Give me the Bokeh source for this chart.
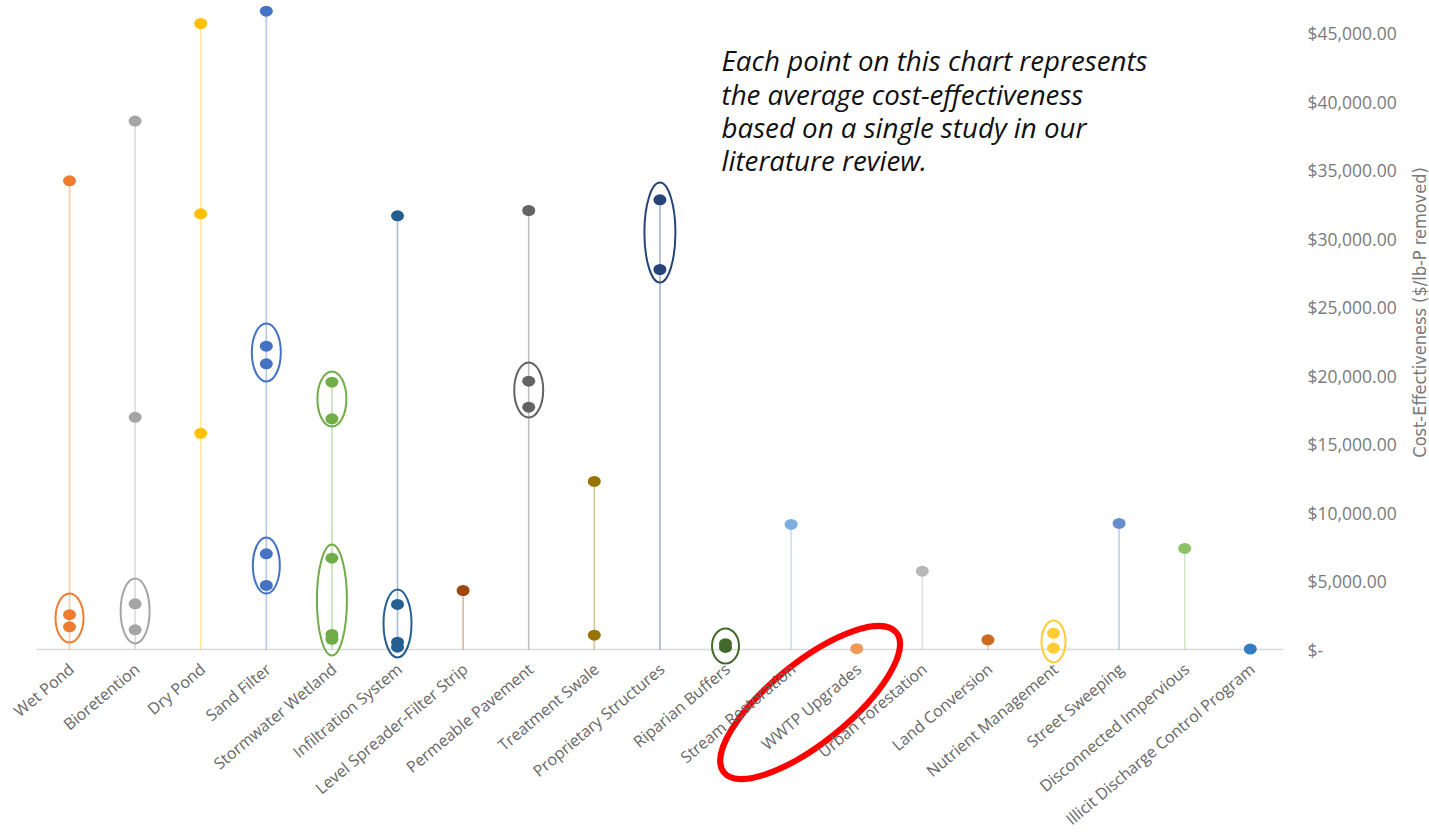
import math

from bokeh.core.properties import value
from bokeh.embed import file_html
from bokeh.layouts import row
from bokeh.models import ColumnDataSource, FixedTicker, NumeralTickFormatter, Range1d
from bokeh.plotting import figure
from bokeh.resources import INLINE

# Stormwater / nutrient practices shown along the horizontal axis
categories = [
    "Wet Pond", "Bioretention", "Dry Pond", "Sand Filter", "Stormwater Wetland",
    "Infiltration System", "Level Spreader-Filter Strip", "Permeable Pavement",
    "Treatment Swale", "Proprietary Structures", "Riparian Buffers",
    "Stream Restoration", "WWTP Upgrades", "Urban Forestation", "Land Conversion",
    "Nutrient Management", "Street Sweeping", "Disconnected Impervious",
    "Illicit Discharge Control Program",
]

# Average cost-effectiveness ($/lb-P removed), one value per study
study_values = [
    [34240, 2540, 1660],                 # Wet Pond
    [38600, 16960, 3340, 1440],          # Bioretention
    [45730, 31830, 15790],               # Dry Pond
    [46630, 22160, 20870, 6990, 4680],   # Sand Filter
    [19530, 16850, 6670, 1100, 750],     # Stormwater Wetland
    [31680, 3290, 530, 170],             # Infiltration System
    [4310],                              # Level Spreader-Filter Strip
    [32070, 19600, 17700],               # Permeable Pavement
    [12280, 1050],                       # Treatment Swale
    [32850, 27760],                      # Proprietary Structures
    [420, 150],                          # Riparian Buffers
    [9140],                              # Stream Restoration
    [60],                                # WWTP Upgrades
    [5720],                              # Urban Forestation
    [710],                               # Land Conversion
    [1190, 100],                         # Nutrient Management
    [9210],                              # Street Sweeping
    [7380],                              # Disconnected Impervious
    [30],                                # Illicit Discharge Control Program
]

point_colors = [
    "#ED7D31", "#A5A5A5", "#FFC000", "#4472C4", "#70AD47", "#255E91", "#9E480E",
    "#636363", "#997300", "#264478", "#43682B", "#7CAFDD", "#F1975A", "#B7B7B7",
    "#CC6A1E", "#FFCD33", "#698ED0", "#8CC168", "#327DC2",
]

# Groups of studies that are circled: practice, lower and upper bound ($/lb-P)
ring_category = [
    "Wet Pond", "Bioretention", "Sand Filter", "Sand Filter", "Stormwater Wetland",
    "Stormwater Wetland", "Infiltration System", "Permeable Pavement",
    "Proprietary Structures", "Riparian Buffers", "Nutrient Management",
]
ring_low = [510, 440, 19580, 4090, 16290, -440, -580, 16950, 26810, -1020, -950]
ring_high = [4090, 5190, 23810, 8180, 20310, 7670, 4380, 20970, 34110, 1530, 2120]
ring_width_px = [28, 29, 29, 27, 29, 30, 28, 29, 31, 27, 24]

y_ticks = list(range(0, 45001, 5000))

note_lines = [
    "Each point on this chart represents",
    "the average cost-effectiveness",
    "based on a single study in our",
    "literature review.",
]
axis_title = "Cost-Effectiveness ($/lb-P removed)"

FONT = "Open Sans"
GREY_TEXT = "#666666"
TICK_TEXT = "#7a7a7a"

idx = {c: i for i, c in enumerate(categories)}
y_range = Range1d(-13368, 47410)

p = figure(
    frame_width=1295, frame_height=832,
    x_range=Range1d(-1.052, 18.689), y_range=y_range,
    x_axis_location=None, y_axis_location="right",
    output_backend="svg", toolbar_location=None,
    min_border_left=0, min_border_top=0, min_border_bottom=0, min_border_right=106,
)
p.outline_line_color = None
p.grid.visible = False
p.background_fill_color = "white"
p.border_fill_color = "white"

# Right-hand value axis
ax = p.yaxis[0]
ax.ticker = FixedTicker(ticks=y_ticks)
ax.formatter = NumeralTickFormatter(format="$0,0.00")
ax.major_label_overrides = {0: "$-"}
ax.axis_line_color = None
ax.major_tick_line_color = None
ax.minor_tick_line_color = None
ax.major_label_standoff = 6
ax.major_label_text_font = FONT
ax.major_label_text_font_size = "17.5px"
ax.major_label_text_color = TICK_TEXT

# Baseline at zero
p.segment(x0=[-0.5], y0=[0], x1=[len(categories) - 0.5], y1=[0],
          line_color="#d9d9d9", line_width=1.6)

# Stems from zero up to the highest study of each practice
stems = ColumnDataSource(dict(
    x=list(range(len(categories))),
    top=[max(v) for v in study_values],
    color=point_colors,
))
p.segment(x0="x", y0=0, x1="x", y1="top", source=stems,
          line_color="color", line_alpha=0.4, line_width=1.6)

# One dot per study
px, py, pc = [], [], []
for i, vals in enumerate(study_values):
    for v in vals:
        px.append(i)
        py.append(v)
        pc.append(point_colors[i])
pts = ColumnDataSource(dict(x=px, y=py, color=pc))
p.ellipse(x="x", y="y", width=13, height=11, width_units="screen", height_units="screen",
          source=pts, fill_color="color", line_color=None)

# Rings around clustered studies
rings = ColumnDataSource(dict(
    x=[idx[c] for c in ring_category],
    y=[(lo + hi) / 2 for lo, hi in zip(ring_low, ring_high)],
    h=[hi - lo for lo, hi in zip(ring_low, ring_high)],
    w=ring_width_px,
    color=[point_colors[idx[c]] for c in ring_category],
))
p.ellipse(x="x", y="y", width="w", height="h", width_units="screen", height_units="data",
          source=rings, fill_color=None, line_color="color", line_width=2)

# Highlight around the WWTP Upgrades label
p.ellipse(x=[idx["WWTP Upgrades"] - 0.71], y=[-3872], width=222, height=80,
          width_units="screen", height_units="screen", angle=math.radians(39),
          fill_color=None, line_color="#ff0000", line_width=6)

# Slanted practice names under the baseline
p.text(x=list(range(len(categories))), y=[-1250] * len(categories), text=categories,
       x_offset=2, angle=math.radians(40), text_align="right", text_baseline="middle",
       text_font=value(FONT), text_font_size="16px", text_color=GREY_TEXT)

# Explanatory note, one line per entry
line_step = 2433
p.text(x=[9.939] * len(note_lines),
       y=[43030 - k * line_step for k in range(len(note_lines))],
       text=note_lines, text_align="left", text_baseline="alphabetic",
       text_font=value(FONT), text_font_style="italic", text_font_size="27.7px",
       text_color="#111111")

# Narrow strip carrying the value-axis title
q = figure(
    frame_width=28, frame_height=832, x_range=Range1d(0, 28), y_range=y_range,
    x_axis_location=None, y_axis_location=None,
    output_backend="svg", toolbar_location=None,
    min_border_left=0, min_border_right=0, min_border_top=0, min_border_bottom=0,
)
q.outline_line_color = None
q.grid.visible = False
q.text(x=[18], y=[24620], text=[axis_title], angle=math.pi / 2,
       text_align="center", text_baseline="middle",
       text_font=value("DejaVu Sans Condensed"), text_font_size="18px",
       text_color=TICK_TEXT)

layout = row(p, q, spacing=0)
open("out.html", "w").write(file_html(layout, INLINE))
